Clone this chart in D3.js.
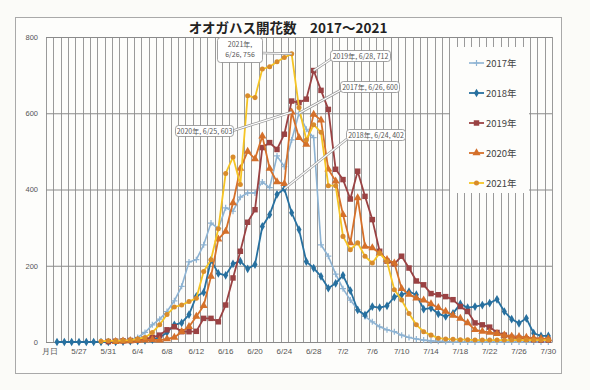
<!DOCTYPE html>
<html><head><meta charset="utf-8">
<script src="https://cdn.jsdelivr.net/npm/d3@7"></script>
<style>
html,body{margin:0;padding:0;background:#fbfbf8;}
svg{display:block;font-family:"Noto Sans CJK JP","Noto Sans",sans-serif;}
</style></head>
<body>
<svg id="c" width="590" height="390"></svg>
<script>
const categories = ["月日","5/24","5/25","5/26","5/27","5/28","5/29","5/30","5/31",
"6/1","6/2","6/3","6/4","6/5","6/6","6/7","6/8","6/9","6/10","6/11","6/12","6/13","6/14","6/15","6/16","6/17","6/18","6/19","6/20","6/21","6/22","6/23","6/24","6/25","6/26","6/27","6/28","6/29","6/30",
"7/1","7/2","7/3","7/4","7/5","7/6","7/7","7/8","7/9","7/10","7/11","7/12","7/13","7/14","7/15","7/16","7/17","7/18","7/19","7/20","7/21","7/22","7/23","7/24","7/25","7/26","7/27","7/28","7/29","7/30"];
const xTickLabels = ["月日","5/27","5/31","6/4","6/8","6/12","6/16","6/20","6/24","6/28","7/2","7/6","7/10","7/14","7/18","7/22","7/26","7/30"];
const yTicks = [0,200,400,600,800];
const seriesNames = ["2017年","2018年","2019年","2020年","2021年"];

const v2017 = [null,null,null,null,null,null,null,null,null,
1,3,6,12,25,45,60,80,108,146,210,216,255,312,298,352,343,380,391,391,420,405,488,460,530,600,558,536,255,225,178,140,110,85,67,53,40,32,27,18,12,8,5,3,2,1,
0,0,0,0,0,0,0,0,0,0,0,0,0,0];
const v2018 = [null,
0,0,0,0,0,0,0,0,0,1,2,3,4,6,12,25,45,50,72,120,130,215,180,175,205,212,192,203,303,334,387,402,339,295,211,194,172,141,154,175,135,84,71,93,90,95,118,124,132,124,86,89,74,67,75,100,90,93,97,102,112,80,60,49,62,23,16,16];
const v2019 = [null,null,null,null,null,null,null,null,
1,2,3,4,5,8,12,18,32,40,27,27,28,62,62,53,97,168,238,314,347,510,523,505,545,632,628,637,712,660,610,453,426,375,448,382,321,238,212,205,225,194,160,150,127,124,119,111,93,80,50,45,39,25,18,12,10,8,6,5,5];
const v2020 = [null,null,null,null,null,null,null,null,null,
1,2,3,4,5,6,5,8,12,27,40,67,95,172,270,290,365,455,500,480,540,455,420,415,603,536,518,597,582,453,422,334,260,378,251,247,233,216,207,140,125,115,110,100,90,80,70,62,50,32,28,25,22,18,15,14,12,10,9,8];
const v2021 = [null,null,null,null,null,null,null,
2,3,3,4,5,8,12,25,45,72,92,97,106,115,185,216,297,442,485,413,646,641,716,722,735,746,756,615,530,570,550,410,410,277,242,260,225,207,233,211,137,110,75,45,27,18,10,8,7,6,6,5,5,5,5,5,5,5,5,5,5,5];

const annotations = [
  {series:4, cat:"6/25", lines:["2021年,","6/26, 756"]},
  {series:2, cat:"6/28", lines:["2019年, 6/28, 712"]},
  {series:0, cat:"6/26", lines:["2017年, 6/26, 600"]},
  {series:3, cat:"6/25", lines:["2020年, 6/25, 603"]},
  {series:1, cat:"6/24", lines:["2018年, 6/24, 402"]}
];

// ---------- layout / style ----------
const allValues = [v2017,v2018,v2019,v2020,v2021];
const styles = [
  {line:"#8db3d3", mark:"#8db3d3", sym:"plus", lw:1.6, ms:6},
  {line:"#27709f", mark:"#27709f", sym:d3.symbolDiamond, lw:1.8, ms:22},
  {line:"#9a4243", mark:"#9a4243", sym:d3.symbolSquare, lw:1.8, ms:30},
  {line:"#d5702a", mark:"#d5702a", sym:d3.symbolTriangle, lw:1.8, ms:28},
  {line:"#f5c424", mark:"#d98c2b", sym:d3.symbolCircle, lw:1.8, ms:20}
];
const boxes = [
  {x:217,y:37,w:45,h:25, ax:262, ay:53},
  {x:330,y:50,w:60,h:11, ax:331, ay:59},
  {x:340,y:81,w:59,h:11, ax:341, ay:90},
  {x:175,y:125,w:58,h:11, ax:232, ay:131},
  {x:346,y:129,w:59,h:11, ax:347, ay:139}
];

const svg = d3.select("#c");
const L=46, R=552, T=37, B=342;
const x = d3.scaleBand().domain(categories).range([L,R]).paddingInner(0).paddingOuter(0);
const cx = c => x(c) + x.bandwidth()/2;
const y = d3.scaleLinear().domain([0,800]).range([B,T]);

// outer chart border
svg.append("rect").attr("x",15.5).attr("y",17.5).attr("width",546).attr("height",356)
  .attr("fill","#fdfdfb").attr("stroke","#a9a9a9").attr("stroke-width",1);

// vertical gridlines at band boundaries
const gx = svg.append("g");
gx.selectAll("line").data(categories).join("line")
  .attr("x1",d=>Math.round(x(d))+0.5).attr("x2",d=>Math.round(x(d))+0.5)
  .attr("y1",T).attr("y2",B).attr("stroke","#9a9a9a").attr("stroke-width",1);
gx.append("line").attr("x1",R+0.5).attr("x2",R+0.5).attr("y1",T).attr("y2",B)
  .attr("stroke","#9a9a9a");

// horizontal gridlines + y labels
const ya = svg.append("g").attr("transform",`translate(${L},0)`)
  .call(d3.axisLeft(y).tickValues(yTicks).tickSize(-(R-L)).tickPadding(8).tickFormat(d3.format("d")));
ya.select(".domain").remove();
ya.selectAll(".tick line").attr("stroke","#8a8a8a");
ya.selectAll(".tick text").attr("font-size",7.5).attr("fill","#555").attr("font-family","Liberation Sans, sans-serif");

// x axis labels
const xa = svg.append("g").attr("transform",`translate(0,${B})`)
  .call(d3.axisBottom(x).tickValues(xTickLabels).tickSize(0).tickPadding(6));
xa.select(".domain").attr("stroke","#8a8a8a");
xa.selectAll(".tick text").attr("font-size",8).attr("fill","#555");

// legend background (covers gridlines)
svg.append("rect").attr("x",450).attr("y",47).attr("width",79).attr("height",146).attr("fill","#fdfdfb");

// series
const plusPath = "M-3,0H3M0,-3V3";
allValues.forEach((vals,si)=>{
  const st = styles[si];
  const pts = categories.map((c,i)=>({c, v:vals[i]})).filter(p=>p.v!=null);
  const g = svg.append("g");
  g.append("path").datum(pts)
    .attr("d", d3.line().x(p=>cx(p.c)).y(p=>y(p.v)))
    .attr("fill","none").attr("stroke",st.line).attr("stroke-width",st.lw).attr("stroke-linejoin","round");
  g.selectAll("path.m").data(pts).join("path").attr("class","m")
    .attr("transform",p=>`translate(${cx(p.c)},${y(p.v)})`)
    .attr("d", st.sym==="plus" ? plusPath : d3.symbol().type(st.sym).size(st.ms)())
    .attr("fill", st.sym==="plus" ? "none" : st.mark)
    .attr("stroke", st.sym==="plus" ? st.mark : "none")
    .attr("stroke-width",1.2);
});

// legend
const lg = svg.append("g");
seriesNames.forEach((n,si)=>{
  const st = styles[si];
  const ly = 63 + si*30;
  lg.append("line").attr("x1",469).attr("x2",484).attr("y1",ly).attr("y2",ly)
    .attr("stroke",st.line).attr("stroke-width",st.lw);
  lg.append("path").attr("transform",`translate(476.5,${ly})`)
    .attr("d", st.sym==="plus" ? plusPath : d3.symbol().type(st.sym).size(st.ms)())
    .attr("fill", st.sym==="plus" ? "none" : st.mark)
    .attr("stroke", st.sym==="plus" ? st.mark : "none").attr("stroke-width",1.2);
  lg.append("text").attr("x",486).attr("y",ly+3.5).attr("font-size",9.5).attr("fill","#444").text(n);
});

// callouts
const cg = svg.append("g");
annotations.forEach((a,k)=>{
  const b = boxes[k];
  const px = cx(a.cat), py = y(allValues[a.series][categories.indexOf(a.cat)]);
  cg.append("line").attr("x1",b.ax).attr("y1",b.ay).attr("x2",px).attr("y2",py)
    .attr("stroke","#9a9a9a").attr("stroke-width",2.6);
  cg.append("line").attr("x1",b.ax).attr("y1",b.ay).attr("x2",px).attr("y2",py)
    .attr("stroke","#ffffff").attr("stroke-width",1.2);
});
annotations.forEach((a,k)=>{
  const b = boxes[k];
  cg.append("rect").attr("x",b.x+0.5).attr("y",b.y+0.5).attr("width",b.w).attr("height",b.h)
    .attr("rx",3).attr("fill","#ffffff").attr("stroke","#8a8a8a").attr("stroke-width",0.8);
  a.lines.forEach((t,j)=>{
    cg.append("text").attr("x",b.x+b.w/2+0.5)
      .attr("y", b.y + (a.lines.length===1 ? b.h/2+3 : 10 + j*10))
      .attr("text-anchor","middle").attr("font-size",7).attr("fill","#555").text(t);
  });
});

// title
svg.append("text").attr("x",288).attr("y",33).attr("text-anchor","middle")
  .attr("font-size",13.5).attr("font-weight","bold").attr("fill","#222")
  .text("オオガハス開花数　2017～2021");
</script>
</body></html>
